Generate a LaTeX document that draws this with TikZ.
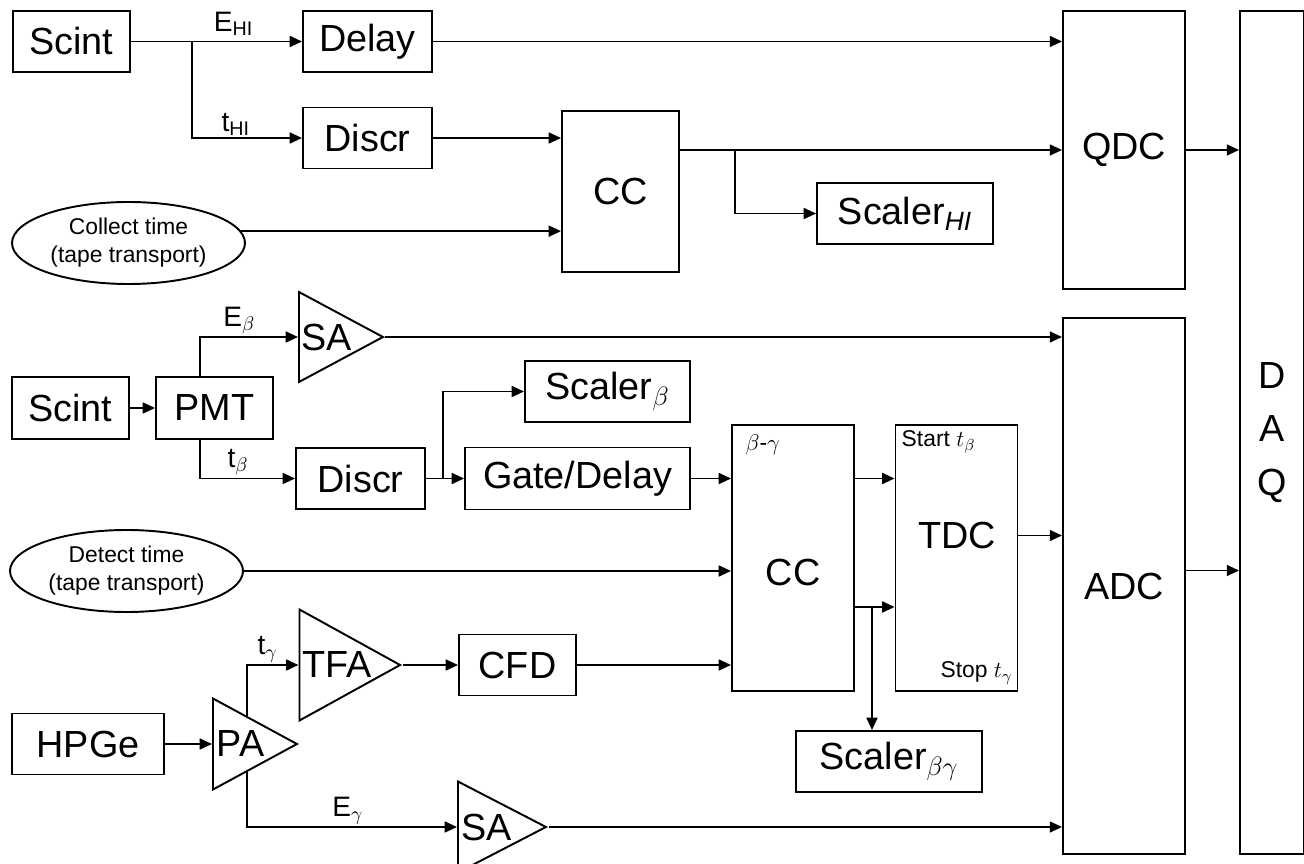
\documentclass[tikz,border=0pt]{standalone}
\usepackage{fix-cm}
\usepackage{amsmath}
\usepackage{fontspec}
\setmainfont{Liberation Sans}
\usetikzlibrary{arrows.meta,shapes.geometric,calc}

\begin{document}
\begin{tikzpicture}[x=0.02cm,y=-0.02cm,line width=1.1pt,>={Triangle[length=7pt,width=6.2pt]},
    blk/.style 2 args={draw,inner sep=0pt,minimum width=#1*0.02cm,minimum height=#2*0.02cm,font=\fontsize{21.5}{25}\selectfont},
    amp/.style 2 args={draw,isosceles triangle,isosceles triangle stretches,shape border rotate=0,anchor=lower side,inner sep=0pt,minimum width=#1*0.02cm,minimum height=#2*0.02cm,font=\fontsize{21.5}{25}\selectfont},
    src/.style={draw,ellipse,inner sep=0pt,minimum width=233*0.02cm,minimum height=82*0.02cm,align=center,font=\fontsize{13}{16}\selectfont},
    sig/.style={font=\fontsize{16}{19}\selectfont,inner sep=1pt},
    txt/.style={font=\fontsize{13}{16}\selectfont,inner sep=1pt}]
    \useasboundingbox (0,0) rectangle (1304,864);
    \node[blk={117}{61}] (scintA) at (71.5,41.5) {Scint};
    \node[blk={129}{61}] (delay) at (367.5,41.5) {Delay};
    \node[blk={129}{61}] (discrA) at (367.5,138) {Discr};
    \node[src] (collect) at (128.5,243) {Collect time\\(tape transport)};
    \node[blk={117}{161}] (ccA) at (620.5,191.5) {CC};
    \node[blk={176}{61}] (scalerHI) at (905,213.5) {Scaler$_{\textit{HI}}$};
    \node[blk={122}{278}] (qdc) at (1124,150) {QDC};
    \node[blk={122}{536}] (adc) at (1124,586) {ADC};
    \node[blk={64}{843},font=\fontsize{21.5}{30.5}\selectfont,align=center] (daq) at (1272,432.5) {D\\A\\Q};
    \node[blk={117}{62}] (scintB) at (70.5,408) {Scint};
    \node[blk={117}{62}] (pmt) at (214.5,408) {PMT};
    \node[amp={90}{84}] (saB) at (298,337) {SA};
    \node[blk={129}{61}] (discrB) at (360.5,478.5) {Discr};
    \node[blk={165}{61}] (scalerB) at (607.5,391.5) {Scaler$_\beta$};
    \node[blk={225}{62}] (gate) at (577.5,478.5) {Gate/Delay};
    \node[src] (detect) at (126.5,571) {Detect time\\(tape transport)};
    \node[blk={122}{266}] (ccB) at (793,558) {};
    \node[blk={122}{266}] (tdc) at (956.5,558) {};
    \node[font=\fontsize{21.5}{25}\selectfont] (ccName) at (793,572) {CC};
    \node[font=\fontsize{21.5}{25}\selectfont] (tdcName) at (957,535) {TDC};
    \node[txt,anchor=west] (bgTag) at (743,445) {$\beta$-$\gamma$};
    \node[txt,anchor=west] (startTag) at (899,442) {Start $t_\beta$};
    \node[txt,anchor=east] (stopTag) at (1015,673) {Stop $t_\gamma$};
    \node[blk={186}{61}] (scalerBG) at (889,761.5) {Scaler$_{\beta\gamma}$};
    \node[blk={152}{61}] (hpge) at (88,744) {HPGe};
    \node[amp={91}{84}] (paC) at (212,744) {PA};
    \node[amp={111}{97}] (tfa) at (298.5,665) {TFA};
    \node[blk={117}{61}] (cfd) at (517.5,665) {CFD};
    \node[amp={91}{88}] (saC) at (457,827) {SA};
    \path (scintA.east) -- (delay.west) coordinate[pos=0.355] (hiSplit);
    \draw[->] (scintA.east) -- (delay.west) node[sig,pos=0.6,above=2pt] {E$_{\text{HI}}$};
    \draw[->] (hiSplit) |- (discrA.west) node[sig,pos=0.7,above] {t$_{\text{HI}}$};
    \draw[->] (delay.east) -- (delay.east -| qdc.west);
    \draw[->] (discrA.east) -- (discrA.east -| ccA.west);
    \draw[->] (collect.6) -- (collect.6 -| ccA.west);
    \draw[->] (ccA.east |- qdc.west) -- (qdc.west) coordinate[pos=0.143] (hiOut);
    \draw[->] (hiOut) |- (scalerHI.west);
    \draw[->] (qdc.east) -- (qdc.east -| daq.west);
    \draw[->] (scintB.east) -- (pmt.west);
    \draw[->] ([xshift=-0.29cm]pmt.north) |- (saB.lower side) node[sig,pos=0.7,above] {E$_\beta$};
    \draw[->] ([xshift=-0.29cm]pmt.south) |- (discrB.west) node[sig,pos=0.7,above] {t$_\beta$};
    \draw[->] (saB.apex) -- (saB.apex -| adc.west);
    \draw[->] (discrB.east) -- (gate.west) coordinate[pos=0.45] (betaSplit);
    \draw[->] (betaSplit) |- (scalerB.west);
    \draw[->] (gate.east) -- (gate.east -| ccB.west);
    \draw[->] (detect.east) -- (detect.east -| ccB.west);
    \draw[->] (cfd.east) -- (cfd.east -| ccB.west);
    \draw[->] (gate.east -| ccB.east) -- (gate.east -| tdc.west);
    \draw[->] ([yshift=-0.98cm]ccB.east) -- ([yshift=-0.98cm]tdc.west) coordinate[pos=0.43] (bgSplit);
    \draw[->] (bgSplit) -- (bgSplit |- scalerBG.north);
    \draw[->] ([yshift=0.45cm]tdc.east) -- ([yshift=0.45cm]tdc.east -| adc.west);
    \draw[->] ([yshift=0.31cm]adc.east) -- ([yshift=0.31cm]adc.east -| daq.west);
    \draw[->] (hpge.east) -- (paC.lower side);
    \draw[->] ($(paC.left corner)!0.4!(paC.apex)$) |- (tfa.lower side) node[sig,pos=0.7,above] {t$_\gamma$};
    \draw[->] ($(paC.right corner)!0.4!(paC.apex)$) |- (saC.lower side) node[sig,pos=0.74,above] {E$_\gamma$};
    \draw[->] (tfa.apex) -- (cfd.west);
    \draw[->] (saC.apex) -- (saC.apex -| adc.west);
\end{tikzpicture}
\end{document}
